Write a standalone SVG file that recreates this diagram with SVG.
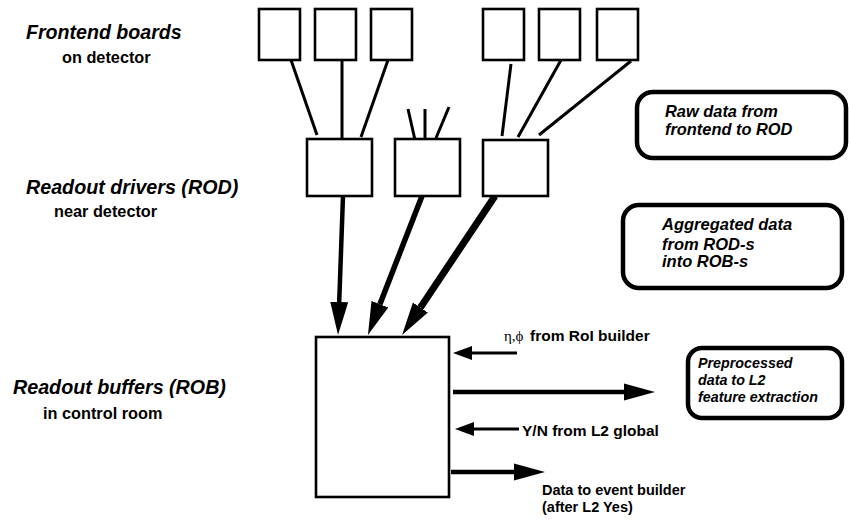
<svg xmlns="http://www.w3.org/2000/svg" width="849" height="520" viewBox="0 0 849 520">
<style>
.box{fill:#fff;stroke:#000;stroke-width:2.6}
.note{fill:#fff;stroke:#000;stroke-width:4.5}
.ln{stroke:#000;stroke-width:3;fill:none}
.lbl{font-family:"Liberation Sans",Arial,sans-serif;font-weight:bold;font-style:italic;fill:#000}
.sub{font-family:"Liberation Sans",Arial,sans-serif;font-weight:bold;fill:#000}
</style>
<defs>
<marker id="ahDown" markerUnits="userSpaceOnUse" markerWidth="34" markerHeight="20" viewBox="0 -10 34 20" refX="0" refY="0" orient="auto"><path d="M0,-9 L33,0 L0,9z" fill="#000"/></marker>
<marker id="ahBig" markerUnits="userSpaceOnUse" markerWidth="32" markerHeight="18" viewBox="0 -9 32 18" refX="0" refY="0" orient="auto"><path d="M0,-8.5 L31,0 L0,8.5z" fill="#000"/></marker>
<marker id="ahSmall" markerUnits="userSpaceOnUse" markerWidth="20" markerHeight="16" viewBox="0 -8 20 16" refX="0" refY="0" orient="auto"><path d="M0,-7 L19,0 L0,7z" fill="#000"/></marker>
</defs>
<rect width="849" height="520" fill="#fff"/>

<g id="labels">
<text class="lbl" x="26" y="39" font-size="19.6">Frontend boards</text>
<text class="sub" x="62" y="63" font-size="16.3">on detector</text>
<text class="lbl" x="26" y="194" font-size="19.7">Readout drivers (ROD)</text>
<text class="sub" x="54" y="217" font-size="16.3">near detector</text>
<text class="lbl" x="13" y="394" font-size="19.7">Readout buffers (ROB)</text>
<text class="sub" x="43" y="419" font-size="16.3">in control room</text>
</g>

<g id="connectors">
<line class="ln" x1="291" y1="60" x2="317" y2="135"/>
<line class="ln" x1="342" y1="60" x2="342" y2="138"/>
<line class="ln" x1="388" y1="60" x2="361" y2="137"/>
<line class="ln" x1="408" y1="109" x2="415" y2="140"/>
<line class="ln" x1="425" y1="109" x2="425" y2="140"/>
<line class="ln" x1="449" y1="107" x2="436" y2="138"/>
<line class="ln" x1="511" y1="64" x2="502" y2="136"/>
<line class="ln" x1="561" y1="60" x2="518" y2="137"/>
<line class="ln" x1="631" y1="61" x2="539" y2="135"/>
<line x1="343" y1="196" x2="339.2" y2="302" stroke="#000" stroke-width="4.5" marker-end="url(#ahDown)"/>
<line x1="422" y1="196" x2="379.9" y2="304.2" stroke="#000" stroke-width="5.5" marker-end="url(#ahDown)"/>
<line x1="495" y1="196" x2="420.4" y2="307.6" stroke="#000" stroke-width="7" marker-end="url(#ahDown)"/>
<line x1="517" y1="353" x2="472" y2="353" stroke="#000" stroke-width="2.8" marker-end="url(#ahSmall)"/>
<line x1="453" y1="392" x2="624" y2="392" stroke="#000" stroke-width="4.5" marker-end="url(#ahBig)"/>
<line x1="519" y1="429" x2="474" y2="429" stroke="#000" stroke-width="2.8" marker-end="url(#ahSmall)"/>
<line x1="451" y1="472" x2="514" y2="472" stroke="#000" stroke-width="4.5" marker-end="url(#ahBig)"/>
</g>

<g id="fe1"><rect class="box" x="259" y="9" width="41" height="51"/></g>
<g id="fe2"><rect class="box" x="315" y="9" width="41" height="51"/></g>
<g id="fe3"><rect class="box" x="371" y="9" width="41" height="51"/></g>
<g id="fe4"><rect class="box" x="483" y="9" width="41" height="51"/></g>
<g id="fe5"><rect class="box" x="539" y="9" width="41" height="51"/></g>
<g id="fe6"><rect class="box" x="597" y="9" width="41" height="51"/></g>

<g id="rod1"><rect class="box" x="307" y="139" width="65" height="57"/></g>
<g id="rod2"><rect class="box" x="395" y="139" width="65" height="57"/></g>
<g id="rod3"><rect class="box" x="483" y="140" width="65" height="56"/></g>

<g id="rob"><rect class="box" x="316" y="337" width="133" height="160"/></g>

<g id="roi-label">
<text x="504" y="341" font-size="15.5" class="sub"><tspan font-family="Liberation Serif,serif" font-weight="normal" font-size="15">η,ϕ</tspan><tspan x="530">from RoI builder</tspan></text>
</g>
<g id="yn-label"><text class="sub" x="522" y="436" font-size="15.5">Y/N from L2 global</text></g>
<g id="eb-label">
<text class="sub" x="542" y="495" font-size="14.5">Data to event builder</text>
<text class="sub" x="542" y="512" font-size="14.5">(after L2 Yes)</text>
</g>

<g id="note-raw">
<rect class="note" x="637" y="92" width="209" height="66" rx="16"/>
<text class="lbl" x="665" y="117" font-size="16.4">Raw data from</text>
<text class="lbl" x="665" y="135" font-size="16.4">frontend to ROD</text>
</g>
<g id="note-agg">
<rect class="note" x="623" y="205" width="219" height="83" rx="16"/>
<text class="lbl" x="662" y="230" font-size="16.5">Aggregated data</text>
<text class="lbl" x="662" y="250" font-size="16.5">from ROD-s</text>
<text class="lbl" x="662" y="267" font-size="16.5">into ROB-s</text>
</g>
<g id="note-pre">
<rect class="note" x="688" y="348" width="154" height="70" rx="14"/>
<text class="lbl" x="698" y="368" font-size="14.3">Preprocessed</text>
<text class="lbl" x="698" y="385" font-size="14.3">data to L2</text>
<text class="lbl" x="698" y="402" font-size="14.3">feature extraction</text>
</g>
</svg>
